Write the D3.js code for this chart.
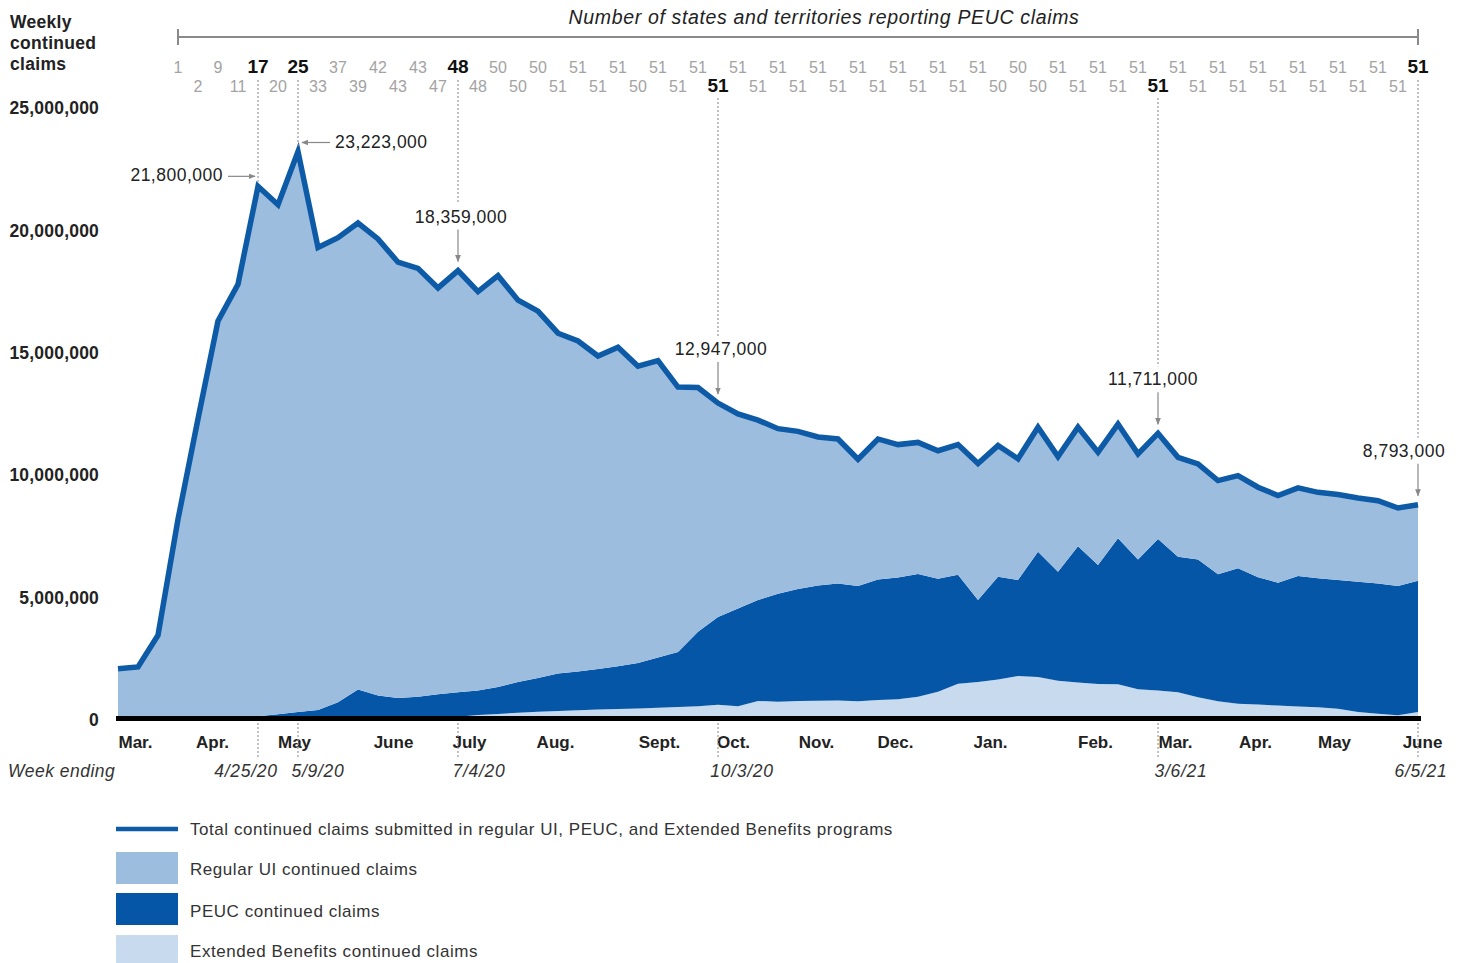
<!DOCTYPE html>
<html><head><meta charset="utf-8">
<script src="https://cdn.jsdelivr.net/npm/d3@7"></script>
<style>
body{margin:0;background:#fff;}
svg{display:block;font-family:"Liberation Sans",Arial,Helvetica,sans-serif;}
</style></head><body>
<svg id="c" width="1460" height="963"></svg>
<script>
// ---- DATA (thousands of weekly continued claims, weeks ending 3/7/20 ... 6/5/21) ----
const regularUI = [2090,2170,3460,8200,12290,16270,17730,21650,20820,22893,18890,18980,19050,18650,17800,17500,16600,17229,16300,16800,15600,14980,13900,13500,12790,13030,12120,12130,10820,9980,8737,7950,7350,6740,6440,6070,5900,5180,5740,5430,5380,5230,5320,5580,5360,4950,5090,4700,4860,4610,4670,4310,4321,4060,3900,3830,3780,3680,3560,3600,3510,3490,3420,3380,3190,3103];
const peucClaims = [0,0,0,0,10,30,70,150,230,330,410,720,1250,980,860,890,960,1000,1000,1100,1250,1380,1530,1580,1650,1750,1860,2050,2250,3040,3590,3990,4120,4410,4570,4700,4780,4700,4920,4970,5010,4620,4450,3350,4200,3920,5110,4460,5570,4860,5960,5300,6190,5540,5630,5180,5540,5200,5020,5330,5270,5260,5320,5320,5280,5360];
const ebClaims = [0,0,0,0,0,0,0,0,0,0,0,0,0,20,40,60,90,130,200,250,300,340,370,400,430,450,470,500,530,560,620,560,780,750,780,790,800,770,820,850,950,1150,1480,1550,1650,1800,1760,1600,1530,1470,1460,1260,1200,1130,930,770,660,630,590,550,520,460,330,260,190,330];
// states & territories reporting PEUC claims, starting with week index 3 (3/28/20)
const statesStart = 3;
const statesReporting = [1,2,9,11,17,20,25,33,37,39,42,43,43,47,48,48,50,50,50,51,51,51,51,50,51,51,51,51,51,51,51,51,51,51,51,51,51,51,51,51,51,50,50,50,51,51,51,51,51,51,51,51,51,51,51,51,51,51,51,51,51,51,51];
const highlightWeeks = [7,9,17,30,52,65];
const highlightDates = ["4/25/20","5/9/20","7/4/20","10/3/20","3/6/21","6/5/21"];
const monthLabels = ["Mar.","Apr.","May","June","July","Aug.","Sept.","Oct.","Nov.","Dec.","Jan.","Feb.","Mar.","Apr.","May","June"];
const monthTickWeeks = [0.85,4.7,8.8,13.75,17.55,21.85,27.05,30.75,34.9,38.85,43.6,48.85,52.85,56.85,60.8,65.2];
const yTicks = [0,5000000,10000000,15000000,20000000,25000000];
const legendItems = ["Total continued claims submitted in regular UI, PEUC, and Extended Benefits programs","Regular UI continued claims","PEUC continued claims","Extended Benefits continued claims"];

// ---- CHART ----
const svg = d3.select('#c');
const x = d3.scaleLinear().domain([0,65]).range([118,1418]);
const y = d3.scaleLinear().domain([0,25000000]).range([720,108]);
const col = {regular:'#9dbddf', peuc:'#0556a7', eb:'#c8daed', line:'#0d5aa7'};

const rows = regularUI.map((r,i)=>({i, regular:r*1000, peuc:peucClaims[i]*1000, eb:ebClaims[i]*1000}));
rows.forEach(d=>d.total=d.regular+d.peuc+d.eb);
const series = d3.stack().keys(['eb','peuc','regular'])(rows);

const area = d3.area().x(d=>x(d.data.i)).y0(d=>y(d[0])).y1(d=>y(d[1]));
svg.append('g').selectAll('path').data(series).join('path')
  .attr('fill',d=>col[d.key]).attr('d',area);

svg.append('path').datum(rows)
  .attr('d',d3.line().x(d=>x(d.i)).y(d=>y(d.total)))
  .attr('fill','none').attr('stroke',col.line).attr('stroke-width',5.5)
  .attr('stroke-linejoin','miter').attr('stroke-miterlimit',6);

// baseline
svg.append('line').attr('x1',116).attr('x2',1421).attr('y1',y(0)-1.5).attr('y2',y(0)-1.5)
  .attr('stroke','#000').attr('stroke-width',5);

// y axis
const yAxis = svg.append('g').attr('transform','translate(100,0)')
  .call(d3.axisLeft(y).tickValues(yTicks).tickSize(0).tickPadding(1).tickFormat(d3.format(',')));
yAxis.select('.domain').remove();
yAxis.selectAll('text').attr('font-size',17.5).attr('font-weight','bold').attr('fill','#222')
  .attr('letter-spacing',0.2)
  .attr('font-family','"Liberation Sans",Arial,sans-serif');

// month axis
const mAxis = svg.append('g').attr('transform','translate(0,736)')
  .call(d3.axisBottom(x).tickValues(monthTickWeeks).tickSize(0).tickPadding(0)
    .tickFormat((d,i)=>monthLabels[i]));
mAxis.select('.domain').remove();
mAxis.selectAll('text').attr('font-size',17).attr('font-weight','bold').attr('fill','#222')
  .attr('font-family','"Liberation Sans",Arial,sans-serif');

svg.append('text').attr('x',8).attr('y',777).attr('font-size',17.5).attr('font-style','italic')
  .attr('letter-spacing',0.5).attr('fill','#333').text('Week ending');

// y title
svg.append('text').attr('x',10).attr('y',28).attr('font-size',17.5).attr('font-weight','bold').attr('fill','#222')
  .attr('letter-spacing',0.3)
  .selectAll('tspan').data(['Weekly','continued','claims']).join('tspan')
  .attr('x',10).attr('dy',(d,i)=>i?21:0).text(d=>d);

// top title + bracket
svg.append('text').attr('x',824).attr('y',24).attr('text-anchor','middle').attr('font-size',19.5)
  .attr('letter-spacing',0.65)
  .attr('font-style','italic').attr('fill','#222').text('Number of states and territories reporting PEUC claims');
const br = svg.append('g').attr('stroke','#8a8a8a').attr('stroke-width',2);
br.append('line').attr('x1',x(statesStart)).attr('x2',x(65)).attr('y1',37).attr('y2',37);
br.append('line').attr('x1',x(statesStart)).attr('x2',x(statesStart)).attr('y1',29).attr('y2',45);
br.append('line').attr('x1',x(65)).attr('x2',x(65)).attr('y1',29).attr('y2',45);

// state counts
svg.append('g').selectAll('text').data(statesReporting.map((v,k)=>({v,i:k+statesStart,row:k%2})))
  .join('text')
  .attr('x',d=>x(d.i)).attr('y',d=>d.row? 92:73).attr('text-anchor','middle')
  .attr('font-size',d=>highlightWeeks.includes(d.i)?19:16)
  .attr('font-weight',d=>highlightWeeks.includes(d.i)?'bold':'normal')
  .attr('fill',d=>highlightWeeks.includes(d.i)?'#111':'#a3a3a3')
  .text(d=>d.v);

// markers
const defs = svg.append('defs');
defs.append('marker').attr('id','arr').attr('viewBox','0 0 10 10').attr('refX',9).attr('refY',5)
  .attr('markerWidth',6).attr('markerHeight',6).attr('orient','auto-start-reverse')
  .append('path').attr('d','M0,1 L10,5 L0,9 Z').attr('fill','#888');

const fmt = d3.format(',');
const dashG = svg.append('g').attr('stroke','#999').attr('stroke-width',1.2).attr('stroke-dasharray','2,2');
const annG = svg.append('g');
const dateDx = [-12,20,21,24,23,3];
const labelDx = [0,0,3,3,-5,-14];
const callFont = 17.5, callLS = 0.5;
highlightWeeks.forEach((w,k)=>{
  const d = rows[w];
  const px = x(w), py = y(d.total);
  const topY = (w-statesStart)%2 ? 98 : 80;
  dashG.append('line').attr('x1',px).attr('x2',px).attr('y1',723).attr('y2',757);
  annG.append('text').attr('x',px+dateDx[k]).attr('y',777).attr('text-anchor','middle')
    .attr('font-size',17.5).attr('letter-spacing',0.7).attr('font-style','italic').attr('fill','#333').text(highlightDates[k]);
  const lbl = fmt(d.total);
  if (k===0) {
    dashG.append('line').attr('x1',px).attr('x2',px).attr('y1',topY).attr('y2',py-4);
    annG.append('text').attr('x',223).attr('y',py-5).attr('text-anchor','end').attr('font-size',callFont)
      .attr('letter-spacing',callLS).attr('fill','#222').text(lbl);
    annG.append('line').attr('x1',228).attr('x2',px-3).attr('y1',py-10).attr('y2',py-10)
      .attr('stroke','#888').attr('stroke-width',1.2).attr('marker-end','url(#arr)');
  } else if (k===1) {
    dashG.append('line').attr('x1',px).attr('x2',px).attr('y1',topY).attr('y2',py-4);
    annG.append('text').attr('x',335).attr('y',py-4).attr('text-anchor','start').attr('font-size',callFont)
      .attr('letter-spacing',callLS).attr('fill','#222').text(lbl);
    annG.append('line').attr('x1',330).attr('x2',px+4).attr('y1',py-9).attr('y2',py-9)
      .attr('stroke','#888').attr('stroke-width',1.2).attr('marker-end','url(#arr)');
  } else {
    const ty = py-54;
    dashG.append('line').attr('x1',px).attr('x2',px).attr('y1',topY).attr('y2',ty-13);
    annG.append('text').attr('x',px+labelDx[k]).attr('y',ty+6).attr('text-anchor','middle').attr('font-size',callFont)
      .attr('letter-spacing',callLS).attr('fill','#222').text(lbl);
    annG.append('line').attr('x1',px).attr('x2',px).attr('y1',ty+13).attr('y2',py-9)
      .attr('stroke','#888').attr('stroke-width',1.2).attr('marker-end','url(#arr)');
  }
});

// legend
const lg = svg.append('g');
lg.append('line').attr('x1',116).attr('x2',178).attr('y1',829).attr('y2',829)
  .attr('stroke',col.line).attr('stroke-width',4.5);
[['regular',852],['peuc',893],['eb',935]].forEach(([k,yy])=>{
  lg.append('rect').attr('x',116).attr('y',yy).attr('width',62).attr('height',32).attr('fill',col[k]);
});
lg.selectAll('text').data(legendItems).join('text')
  .attr('x',190).attr('y',(d,i)=>[835,875,917,957][i]).attr('font-size',17)
  .attr('letter-spacing',0.55).attr('fill','#333').text(d=>d);
</script>
</body></html>
